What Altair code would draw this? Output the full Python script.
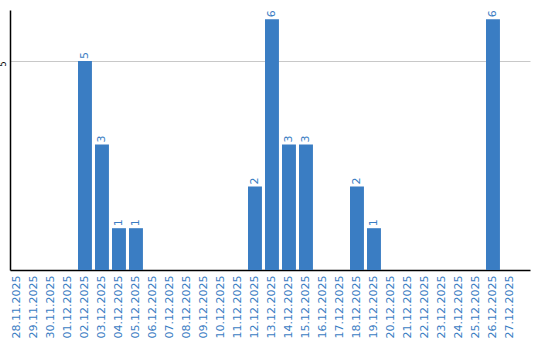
import altair as alt
import pandas as pd

dates = ["28.11.2025", "29.11.2025", "30.11.2025", "01.12.2025", "02.12.2025", "03.12.2025",
         "04.12.2025", "05.12.2025", "06.12.2025", "07.12.2025", "08.12.2025", "09.12.2025",
         "10.12.2025", "11.12.2025", "12.12.2025", "13.12.2025", "14.12.2025", "15.12.2025",
         "16.12.2025", "17.12.2025", "18.12.2025", "19.12.2025", "20.12.2025", "21.12.2025",
         "22.12.2025", "23.12.2025", "24.12.2025", "25.12.2025", "26.12.2025", "27.12.2025"]
counts = [0, 0, 0, 0, 5, 3,
          1, 1, 0, 0, 0, 0,
          0, 0, 2, 6, 3, 3,
          0, 0, 2, 1, 0, 0,
          0, 0, 0, 0, 6, 0]

df = pd.DataFrame({"date": dates, "count": counts})
df["label"] = [str(c) if c > 0 else "" for c in counts]

BLUE = "#3a7dc3"
FONT = "DejaVu Sans"

x = alt.X("date:N", sort=dates,
          scale=alt.Scale(paddingInner=0.18, paddingOuter=0.384, align=0),
          axis=alt.Axis(title=None, labelAngle=-90, labelColor=BLUE, labelFontSize=11,
                        labelFont=FONT, ticks=False, labelPadding=5, domainColor="black",
                        domainWidth=1.5, grid=False))
y = alt.Y("count:Q", scale=alt.Scale(domain=[0, 6.22], nice=False),
          axis=alt.Axis(title=None, values=[5], labelAngle=-90, labelAlign="right",
                        labelBaseline="bottom", labelFontSize=8, labelFont=FONT,
                        labelColor="black", ticks=False, labelPadding=3,
                        domainColor="black", domainWidth=1.5, grid=True,
                        gridColor="#c8c8c8", gridWidth=1))

base = alt.Chart(df)
bars = base.mark_bar(color=BLUE).encode(x=x, y=y)
labels = base.transform_filter("datum.count > 0").mark_text(
    angle=270, align="left", baseline="middle", dx=2, color=BLUE, fontSize=11, font=FONT
).encode(x=alt.X("date:N", sort=dates), y="count:Q", text="label:N")

chart = alt.layer(bars, labels).properties(
    width=520, height=260,
    background="white",
    autosize=alt.AutoSizeParams(type="none"),
    padding={"left": 10, "top": 10, "right": 10, "bottom": 70},
).configure_view(stroke=None)

chart.save("out.html", embed_options={"renderer": "svg", "actions": False})
